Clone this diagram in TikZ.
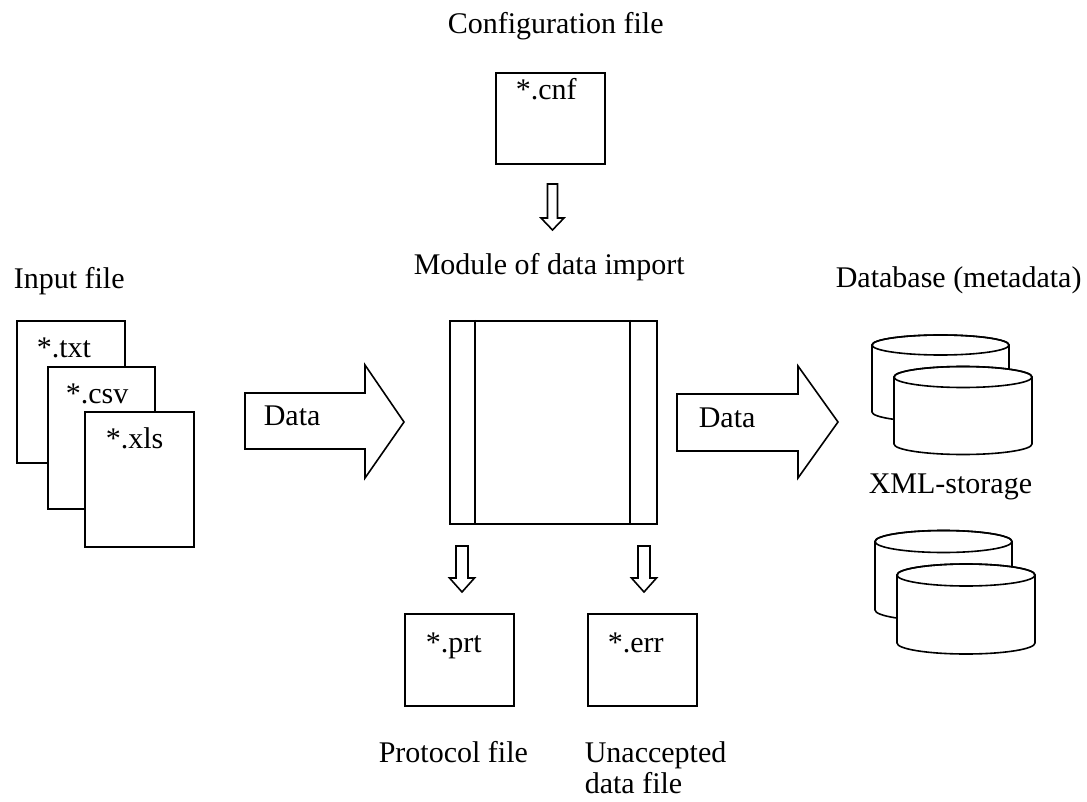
\documentclass[tikz,border=0pt]{standalone}
\usepackage{fontspec}
\setmainfont{Liberation Serif}
\begin{document}
\begin{tikzpicture}[x=1pt,y=-1pt,line width=1.6pt,line join=miter,
  filebox/.style={draw,fill=white,rectangle,inner sep=0pt,anchor=north west,minimum width=109pt,minimum height=92pt},
  lbl/.style={inner sep=0pt,anchor=base west,font=\fontsize{30}{31}\selectfont},
  shapefill/.style={draw,fill=white}]
\useasboundingbox (0,0) rectangle (1087,802);

% ---- configuration file
\node[lbl] (cfglbl) at (447,34) {Configuration file};
\node[filebox,minimum height=91pt] (cnf) at (495,72) {};
\node[lbl] (cnftxt) at (515,100) {*.cnf};
% small hollow arrow below cnf
\draw[shapefill] (547.5,184) -- (547.5,218) -- (541,218) -- (552.5,230) -- (564,218) -- (557.5,218) -- (557.5,184) -- cycle;

% ---- module
\node[lbl] (modlbl) at (413,275) {Module of data import};
\node[draw,rectangle,inner sep=0pt,anchor=north west,minimum width=207pt,minimum height=203pt] (module) at (449,320) {};
\draw (475,320) -- (475,523);
\draw (630,320) -- (630,523);

% ---- input files
\node[lbl] (inlbl) at (13,289) {Input file};
\node[filebox,minimum width=108pt,minimum height=142pt] (txt) at (16,320) {};
\node[lbl] (txttxt) at (36,357) {*.txt};
\node[filebox,minimum width=107pt,minimum height=142pt] (csv) at (47,366) {};
\node[lbl] (csvtxt) at (65,403) {*.csv};
\node[filebox,minimum width=109pt,minimum height=135pt] (xls) at (84,411) {};
\node[lbl] (xlstxt) at (105,448) {*.xls};

% ---- data arrows
\draw[shapefill] (245,393) -- (365,393) -- (365,365) -- (404,422) -- (365,478) -- (365,449) -- (245,449) -- cycle;
\node[lbl] (data1) at (263,425) {Data};
\draw[shapefill] (677,394) -- (798,394) -- (798,366) -- (838,422) -- (798,478) -- (798,451) -- (677,451) -- cycle;
\node[lbl] (data2) at (698,427) {Data};

% ---- database
\node[lbl] (dblbl) at (835,288) {Database (metadata)};
\newcommand{\cyl}[5]{% cx, top, bottom, rx, ry
  \filldraw[fill=white] (#1-#4,#2) -- (#1-#4,#3) arc[start angle=180,end angle=0,x radius=#4,y radius=#5] -- (#1+#4,#2) arc[start angle=0,end angle=-180,x radius=#4,y radius=#5] -- cycle;
  \draw (#1,#2) ellipse[x radius=#4,y radius=#5];}
\cyl{940.5}{345}{412}{68.5}{10}
\cyl{963}{377}{444}{69}{10.5}
\node[lbl] (xmllbl) at (868,493) {XML-storage};
\cyl{943.5}{541.5}{610}{68.5}{11}
\cyl{966}{575}{643}{69}{11}

% ---- output arrows
\draw[shapefill] (456,546) -- (456,578) -- (449.5,578) -- (462,592) -- (474.5,578) -- (468,578) -- (468,546) -- cycle;
\draw[shapefill] (638,546) -- (638,578) -- (631.5,578) -- (644,592) -- (656.5,578) -- (650,578) -- (650,546) -- cycle;

% ---- output files
\node[filebox] (prt) at (404,613) {};
\node[lbl] (prttxt) at (425,652) {*.prt};
\node[filebox] (err) at (587,613) {};
\node[lbl] (errtxt) at (607,652) {*.err};
\node[lbl] (prtlbl) at (378,762) {Protocol file};
\node[lbl,align=left] (errlbl) at (584,793) {Unaccepted\\data file};
\end{tikzpicture}
\end{document}
